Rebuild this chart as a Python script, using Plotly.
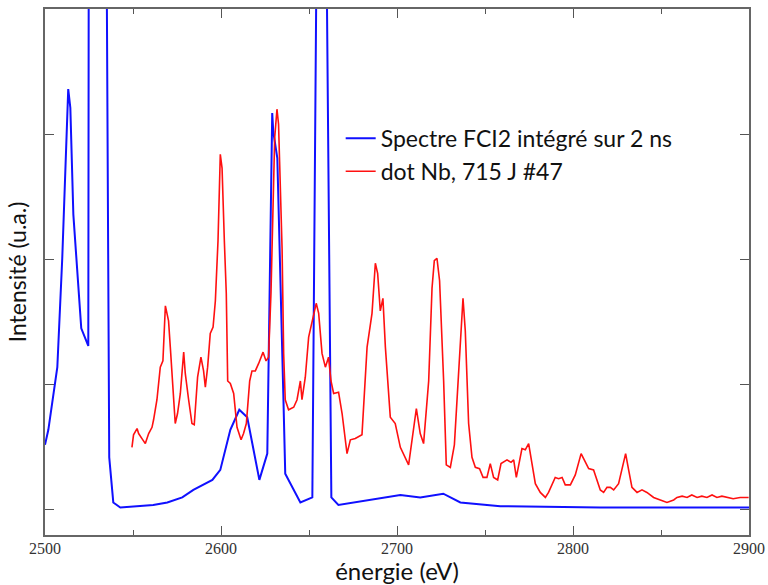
import plotly.graph_objects as go

# Blue: Spectre FCI2 intégré sur 2 ns (energy eV, intensity a.u.)
blue_e = [2500.0, 2501.9, 2507.0, 2509.8, 2513.2, 2514.4, 2516.1, 2520.6, 2524.6, 2524.9,
          2534.8, 2536.5, 2538.8, 2542.8, 2561.5, 2569.5, 2578.0, 2584.3, 2595.1, 2599.6,
          2605.3, 2610.4, 2614.9, 2621.8, 2626.3, 2629.1, 2629.7, 2632.0, 2635.4, 2636.5,
          2645.1, 2651.9, 2654.6, 2659.6, 2662.7, 2666.7, 2701.9, 2713.2, 2726.3, 2736.0,
          2758.7, 2815.5, 2900.0]
blue_v = [0.52, 0.64, 1.14, 2.01, 3.36, 3.21, 2.36, 1.45, 1.31, 5.0,
          5.0, 0.42, 0.06, 0.02, 0.04, 0.06, 0.10, 0.16, 0.24, 0.32,
          0.64, 0.80, 0.74, 0.24, 0.45, 3.17, 3.02, 2.81, 0.93, 0.29,
          0.06, 0.10, 5.0, 5.0, 0.10, 0.04, 0.12, 0.10, 0.13, 0.06,
          0.03, 0.02, 0.02]

# Red: dot Nb, 715 J #47
red_e = [2549.4, 2550.3, 2552.3, 2553.2, 2555.1, 2557.0, 2558.9, 2560.8, 2561.7, 2563.6,
         2565.5, 2567.0, 2568.4, 2569.3, 2570.2, 2571.2, 2572.2, 2574.0, 2575.3, 2576.9,
         2578.8, 2579.7, 2581.6, 2583.5, 2584.8, 2586.7, 2588.6, 2590.1, 2591.1, 2592.4,
         2593.9, 2595.5, 2596.8, 2598.3, 2599.6, 2600.6, 2601.9, 2603.0, 2603.8, 2605.3,
         2607.2, 2609.1, 2611.4, 2612.8, 2614.4, 2616.3, 2617.6, 2619.5, 2621.4, 2623.9,
         2625.6, 2627.0, 2628.4, 2629.5, 2630.5, 2631.8, 2632.7, 2633.3, 2634.7, 2635.6,
         2636.5, 2638.4, 2641.3, 2643.2, 2645.1, 2646.0, 2647.9, 2649.8, 2651.7, 2653.2,
         2654.1, 2655.5, 2657.4, 2659.3, 2661.1, 2662.5, 2664.0, 2666.8, 2668.8, 2671.6,
         2673.5, 2676.3, 2680.1, 2683.0, 2685.8, 2687.7, 2689.0, 2690.5, 2692.0, 2693.4,
         2696.2, 2699.0, 2701.9, 2706.6, 2709.4, 2711.0, 2713.2, 2715.1, 2718.0, 2719.9,
         2721.2, 2722.7, 2724.2, 2726.5, 2728.0, 2730.3, 2732.6, 2734.1, 2736.0, 2737.5,
         2738.8, 2740.7, 2742.6, 2744.5, 2746.9, 2748.9, 2751.1, 2753.0, 2754.9, 2757.2,
         2759.1, 2762.5, 2764.8, 2766.3, 2767.8, 2769.3, 2771.0, 2772.9, 2774.8, 2776.7,
         2778.6, 2781.4, 2784.3, 2786.1, 2788.1, 2789.9, 2791.8, 2793.8, 2795.6, 2798.5,
         2801.3, 2803.2, 2804.6, 2806.4, 2808.9, 2811.7, 2813.6, 2815.5, 2817.4, 2819.3,
         2821.2, 2823.1, 2825.9, 2828.4, 2829.9, 2831.6, 2833.5, 2836.4, 2839.2, 2842.0,
         2845.8, 2849.6, 2853.4, 2857.2, 2859.1, 2862.0, 2864.8, 2867.5, 2870.5, 2873.2,
         2876.1, 2879.0, 2881.8, 2884.6, 2887.5, 2891.0, 2895.0, 2899.8]
red_v = [0.50, 0.60, 0.65, 0.61, 0.57, 0.53, 0.61, 0.66, 0.72, 0.88,
         1.14, 1.19, 1.63, 1.57, 1.51, 1.30, 1.11, 0.69, 0.77, 0.93,
         1.26, 1.09, 0.88, 0.69, 0.68, 1.06, 1.22, 1.11, 0.98, 1.14,
         1.41, 1.46, 1.67, 2.15, 2.84, 2.73, 2.15, 1.73, 1.03, 1.01,
         0.93, 0.66, 0.56, 0.61, 0.69, 1.03, 1.11, 1.11, 1.17, 1.26,
         1.19, 1.22, 1.73, 2.36, 2.97, 3.20, 3.08, 2.78, 2.09, 1.25,
         0.88, 0.80, 0.82, 0.88, 1.03, 0.88, 1.06, 1.38, 1.49, 1.59,
         1.65, 1.57, 1.25, 1.14, 1.22, 1.03, 0.93, 0.94, 0.77, 0.45,
         0.56, 0.57, 0.60, 1.30, 1.57, 1.97, 1.89, 1.59, 1.69, 1.30,
         0.74, 0.69, 0.50, 0.36, 0.64, 0.81, 0.61, 0.53, 1.03, 1.77,
         1.99, 2.01, 1.83, 1.03, 0.36, 0.34, 0.52, 0.88, 1.35, 1.69,
         1.43, 0.69, 0.42, 0.34, 0.33, 0.26, 0.26, 0.37, 0.26, 0.24,
         0.37, 0.40, 0.38, 0.40, 0.26, 0.37, 0.49, 0.48, 0.53, 0.37,
         0.21, 0.14, 0.10, 0.14, 0.21, 0.26, 0.25, 0.26, 0.20, 0.20,
         0.28, 0.37, 0.45, 0.40, 0.33, 0.32, 0.24, 0.16, 0.14, 0.18,
         0.18, 0.16, 0.21, 0.37, 0.45, 0.32, 0.18, 0.14, 0.16, 0.14,
         0.10, 0.08, 0.06, 0.08, 0.10, 0.11, 0.10, 0.12, 0.10, 0.11,
         0.10, 0.12, 0.10, 0.11, 0.10, 0.09, 0.10, 0.10]

x_ticks = [2500, 2600, 2700, 2800, 2900]
x_labels = ["2500", "2600", "2700", "2800", "2900"]
y_ticks = [0, 1, 2, 3]

fig = go.Figure()
fig.add_trace(go.Scatter(x=blue_e, y=blue_v, mode="lines",
                         name="Spectre FCI2 intégré sur 2 ns",
                         line=dict(color="#1010ff", width=2)))
fig.add_trace(go.Scatter(x=red_e, y=red_v, mode="lines",
                         name="dot Nb, 715 J #47",
                         line=dict(color="#ff1010", width=1.6)))

fig.update_layout(
    width=768, height=585,
    margin=dict(l=45, r=19, t=9, b=50, autoexpand=False),
    paper_bgcolor="white", plot_bgcolor="white",
    showlegend=True,
    legend=dict(x=0.42, y=0.795, xanchor="left", yanchor="top",
                bgcolor="rgba(0,0,0,0)", borderwidth=0,
                font=dict(family="Lato", size=23, color="#111"),
                tracegroupgap=0),
)
fig.update_xaxes(
    range=[2500, 2900], tickvals=x_ticks, ticktext=x_labels,
    ticks="inside", ticklen=9, tickcolor="#555", tickwidth=1.2,
    minor=dict(dtick=50, ticks="inside", ticklen=5, tickcolor="#555"),
    showline=True, linecolor="#666", linewidth=1.5, mirror="ticks",
    showgrid=False, zeroline=False, automargin=False,
    ticklabelstandoff=-2,
    tickfont=dict(family="Liberation Serif", size=16, color="#333"),
    title=dict(text="énergie (eV)", font=dict(family="Lato", size=24, color="#111"), standoff=4),
)
fig.update_yaxes(
    range=[-0.2, 4.0], tickvals=y_ticks, showticklabels=False,
    ticks="inside", ticklen=9, tickcolor="#555", tickwidth=1.2,
    showline=True, linecolor="#666", linewidth=1.5, mirror="ticks",
    showgrid=False, zeroline=False, automargin=False,
    title=dict(text="Intensité (u.a.)", font=dict(family="Lato", size=23, color="#111"), standoff=10),
)

fig.write_html("out.html", config={"displayModeBar": False},
               post_script="document.body.style.margin='0px';")
